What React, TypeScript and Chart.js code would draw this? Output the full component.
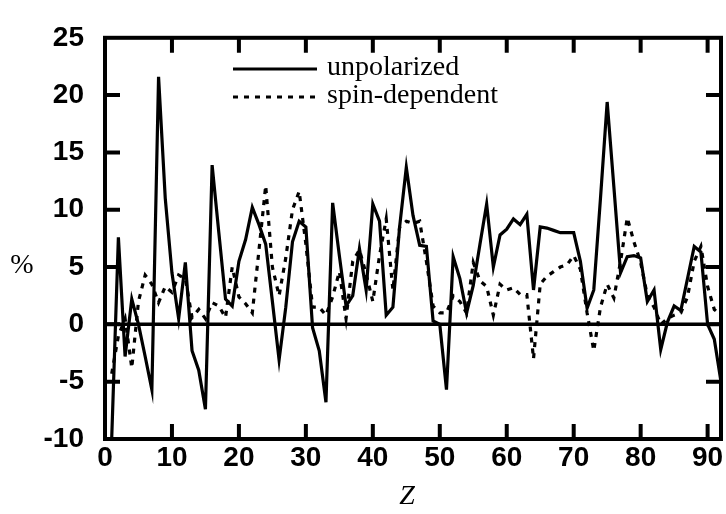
import React, { useEffect, useRef } from "react";
import { Chart, registerables } from "chart.js";

Chart.register(...registerables);

const zValues = [
  1, 2, 3, 4, 5, 6, 7, 8, 9, 10, 11, 12, 13, 14, 15, 16, 17, 18, 19, 20,
  21, 22, 23, 24, 25, 26, 27, 28, 29, 30, 31, 32, 33, 34, 35, 36, 37, 38, 39, 40,
  41, 42, 43, 44, 45, 46, 47, 48, 49, 50, 51, 52, 53, 54, 55, 56, 57, 58, 59, 60,
  61, 62, 63, 64, 65, 66, 67, 68, 69, 70, 71, 72, 73, 74, 75, 76, 77, 78, 79, 80,
  81, 82, 83, 84, 85, 86, 87, 88, 89, 90, 91, 92,
];

const unpolarized = [
  -10, 7.6, -2.8, 2.2, 0, -2.8, -5.7, 21.6, 11, 4.5,
  0.5, 5.4, -2.3, -4, -7.4, 13.9, 8, 2.2, 1.6, 5.5,
  7.4, 10.2, 8.7, 7, 2, -3.1, 1.5, 7.2, 9, 8.5,
  -0.3, -2.3, -6.8, 10.6, 6, 1.6, 2.5, 6.6, 3, 10.5,
  9, 0.8, 1.5, 8.5, 13.7, 9.5, 6.9, 6.8, 0.3, 0,
  -5.7, 5.9, 4, 1, 3.4, 7, 10.5, 5, 7.8, 8.3,
  9.2, 8.7, 9.6, 3, 8.5, 8.4, 8.2, 8.0, 8.0, 8.0,
  5.5, 1.4, 3, 11, 19.4, 12, 4.5, 5.9, 6, 5.8,
  2, 3, -2.2, 0.2, 1.6, 1.2, 4, 6.8, 6.3, 0,
  -1.3, -5,
];

const spinDependent = [
  -4.3, -1, 0.5, -3.8, 2, 4.3, 3.5, 1.9, 3.3, 2.8,
  4.3, 4, 0.6, 1.3, 0.5, 1.9, 1.6, 0.6, 5, 2.4,
  1.8, 1, 6.5, 12.1, 5, 2.5, 5.8, 10, 11.6, 7,
  1.5, 1.5, 0.8, 2.4, 4.6, 0.5, 5.5, 6.5, 4.4, 2,
  6, 9.2, 3, 8.5, 9, 8.8, 9, 5.5, 1.6, 1,
  1, 2.5, 2, 1, 5.4, 3.8, 3.3, 0.8, 3.5, 3,
  3.2, 2.6, 2.6, -3, 3.5, 4.2, 4.6, 5, 5.2, 6,
  4.8, 1, -2.3, 1.5, 3.5, 2.3, 5.5, 9.3, 7.2, 5.4,
  2.5, 1.5, 0, 0.5, 0.8, 1, 2.4, 5.5, 6.8, 3.3,
  1.3, 0.8,
];

const xTicks = [0, 10, 20, 30, 40, 50, 60, 70, 80, 90];
const yTicks = [-10, -5, 0, 5, 10, 15, 20, 25];
const seriesLabels = ["unpolarized", "spin-dependent"];
const xTitle = "Z";
const yTitle = "%";

const SANS = "'Liberation Sans', Arial, sans-serif";
const SERIF = "'Liberation Serif', 'Times New Roman', serif";

const decorPlugin = {
  id: "decor",
  beforeDatasetsDraw(chart: any) {
    const { ctx, chartArea, scales } = chart;
    const y0 = scales.y.getPixelForValue(0);
    ctx.save();
    ctx.strokeStyle = "#000";
    ctx.lineWidth = 3.5;
    ctx.beginPath();
    ctx.moveTo(chartArea.left, y0);
    ctx.lineTo(chartArea.right, y0);
    ctx.stroke();
    ctx.restore();
  },
  afterDraw(chart: any) {
    const { ctx, chartArea, scales } = chart;
    const { left, right, top, bottom } = chartArea;
    ctx.save();
    ctx.strokeStyle = "#000";
    ctx.lineWidth = 4;
    ctx.strokeRect(left, top, right - left, bottom - top);
    const tl = 15;
    ctx.beginPath();
    xTicks.forEach((v) => {
      const px = scales.x.getPixelForValue(v);
      if (px <= left + 2) return;
      ctx.moveTo(px, bottom);
      ctx.lineTo(px, bottom - tl);
      ctx.moveTo(px, top);
      ctx.lineTo(px, top + tl);
    });
    yTicks.forEach((v) => {
      const py = scales.y.getPixelForValue(v);
      if (py <= top + 2 || py >= bottom - 2) return;
      ctx.moveTo(left, py);
      ctx.lineTo(left + tl, py);
      ctx.moveTo(right, py);
      ctx.lineTo(right - tl, py);
    });
    ctx.stroke();

    // legend
    const ds = chart.data.datasets;
    const lx0 = 233;
    const lx1 = 317;
    const rows = [69, 97];
    ds.forEach((d: any, i: number) => {
      ctx.beginPath();
      ctx.lineWidth = d.borderWidth;
      ctx.setLineDash(d.borderDash || []);
      ctx.moveTo(lx0, rows[i]);
      ctx.lineTo(lx1, rows[i]);
      ctx.stroke();
    });
    ctx.setLineDash([]);
    ctx.fillStyle = "#000";
    ctx.font = `28px ${SERIF}`;
    ctx.textAlign = "left";
    ctx.textBaseline = "middle";
    ds.forEach((d: any, i: number) => {
      ctx.fillText(d.label, 327, rows[i] - 1);
    });

    // axis titles
    ctx.font = `28px ${SERIF}`;
    ctx.textAlign = "center";
    ctx.fillText(yTitle, 22, 266);
    ctx.font = `italic 28px ${SERIF}`;
    ctx.fillText(xTitle, 407, 497);
    ctx.restore();
  },
};

export default function App() {
  const ref = useRef<HTMLCanvasElement | null>(null);
  useEffect(() => {
    if (!ref.current) return;
    const chart = new Chart(ref.current, {
      type: "line",
      data: {
        datasets: [
          {
            label: seriesLabels[0],
            data: zValues.map((z, i) => ({ x: z, y: unpolarized[i] })),
            borderColor: "#000",
            borderWidth: 3.2,
            pointRadius: 0,
            tension: 0,
            fill: false,
          },
          {
            label: seriesLabels[1],
            data: zValues.map((z, i) => ({ x: z, y: spinDependent[i] })),
            borderColor: "#000",
            borderWidth: 3.2,
            borderDash: [5, 6],
            pointRadius: 0,
            tension: 0,
            fill: false,
          },
        ],
      },
      options: {
        animation: false,
        responsive: false,
        devicePixelRatio: 1,
        layout: { padding: { top: 20, right: 5, left: 0, bottom: 0 } },
        plugins: { legend: { display: false }, tooltip: { enabled: false } },
        scales: {
          x: {
            type: "linear",
            min: 0,
            max: 92,
            grid: { display: false, drawTicks: false },
            border: { display: false },
            afterBuildTicks: (s: any) => {
              s.ticks = xTicks.map((v) => ({ value: v }));
            },
            afterFit: (s: any) => {
              s.height = 75;
            },
            ticks: {
              color: "#000",
              font: { family: SANS, size: 28, weight: "bold" },
              padding: 2,
              maxRotation: 0,
              autoSkip: false,
              includeBounds: false,
            },
          },
          y: {
            type: "linear",
            min: -10,
            max: 25,
            grid: { display: false, drawTicks: false },
            border: { display: false },
            afterBuildTicks: (s: any) => {
              s.ticks = yTicks.map((v) => ({ value: v }));
            },
            afterFit: (s: any) => {
              s.width = 105;
            },
            ticks: {
              color: "#000",
              font: { family: SANS, size: 28, weight: "bold" },
              padding: 21,
              autoSkip: false,
            },
          },
        },
      },
      plugins: [decorPlugin],
    } as any);
    return () => chart.destroy();
  }, []);
  return (
    <div style={{ position: "fixed", left: 0, top: 0, width: 726, height: 514, background: "#fff" }}>
      <canvas ref={ref} width={726} height={514} />
    </div>
  );
}
